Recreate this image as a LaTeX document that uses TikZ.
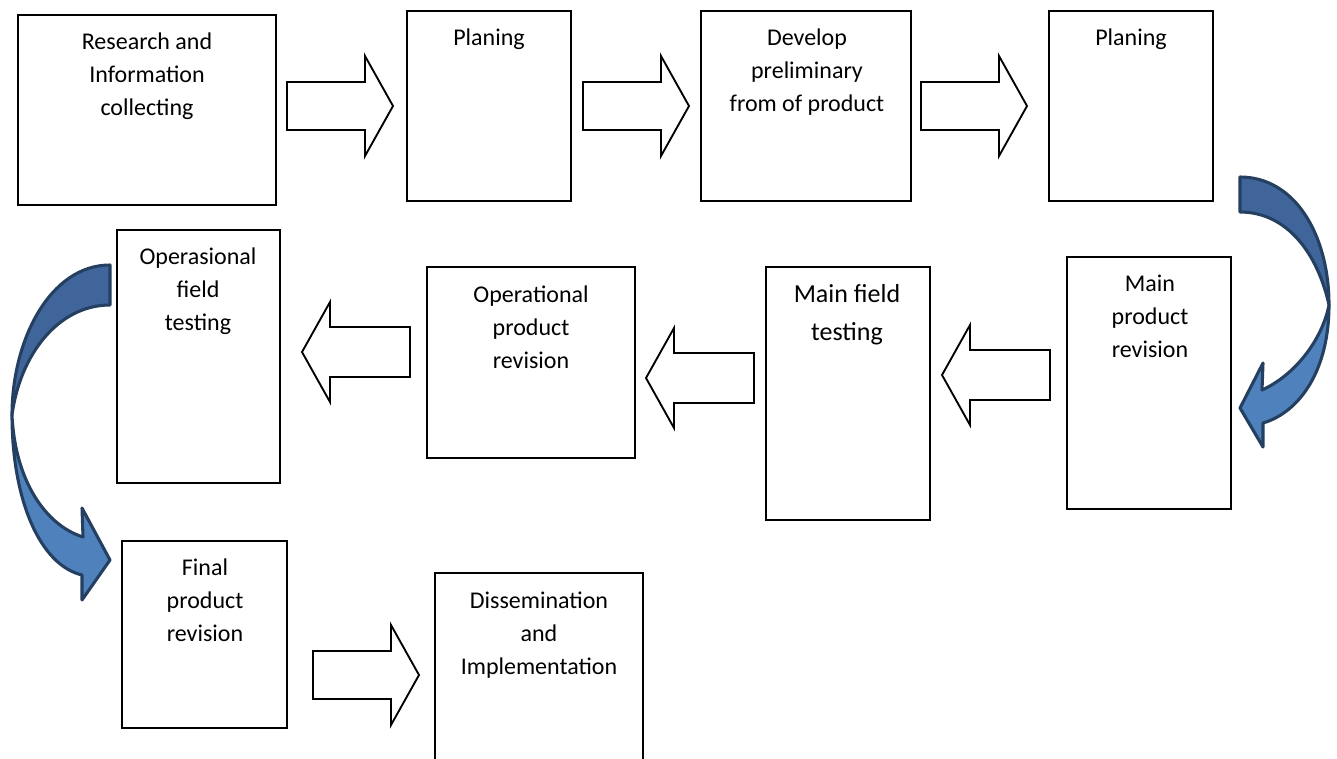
\documentclass[tikz,border=0pt]{standalone}
\usepackage{fontspec}
\setmainfont{Carlito}
\usetikzlibrary{fit}
\definecolor{navy}{HTML}{243F60}
\definecolor{cdark}{HTML}{40659A}
\definecolor{clight}{HTML}{4F81BD}
\begin{document}
\begin{tikzpicture}[x=0.75pt,y=-0.75pt,
  box/.style={draw=black,line width=1.3pt,fill=white,inner sep=0pt},
  lbl/.style={anchor=north,align=center,inner sep=0pt,font=\fontsize{18}{24.75}\selectfont},
  biglbl/.style={anchor=north,align=center,inner sep=0pt,font=\fontsize{19.5}{28.5}\selectfont},
  barrow/.style={draw=black,line width=1.4pt,fill=white,line join=miter},
  cupper/.style={draw=navy,line width=2.3pt,fill=cdark,line join=round},
  clower/.style={draw=navy,line width=2.3pt,fill=clight,line join=round},
  rarrow/.pic={\draw[barrow] (0,-24) -- (78,-24) -- (78,-50) -- (106,0) -- (78,50) -- (78,24) -- (0,24) -- cycle;},
  larrow/.pic={\draw[barrow] (0,-25) -- (-80,-25) -- (-80,-50) -- (-108,0) -- (-80,50) -- (-80,25) -- (0,25) -- cycle;}
]
\clip (0,0) rectangle (1337,758);
\fill[white] (0,0) rectangle (1337,758);

% boxes
\node[box,fit={(18,15) (276,205)}] (b1) {};
\node[box,fit={(407,11) (571,201)}] (b2) {};
\node[box,fit={(701,11) (911,201)}] (b3) {};
\node[box,fit={(1049,11) (1213,201)}] (b4) {};
\node[box,fit={(1067,257) (1231,509)}] (b5) {};
\node[box,fit={(766,267) (930,520)}] (b6) {};
\node[box,fit={(427,267) (635,458)}] (b7) {};
\node[box,fit={(117,230) (280,483)}] (b8) {};
\node[box,fit={(122,541) (287,728)}] (b9) {};
\node[box,fit={(435,573) (643,770)}] (b10) {};

% labels
\node[lbl] (t1) at (147,33) {Research and\\Information\\collecting};
\node[lbl] (t2) at (489,29) {Planing};
\node[lbl] (t3) at (807,29) {Develop\\preliminary\\from of product};
\node[lbl] (t4) at (1131,29) {Planing};
\node[lbl] (t5) at (1150,275) {Main\\product\\revision};
\node[biglbl] (t6) at (847,284) {Main field\\testing};
\node[lbl] (t7) at (531,286) {Operational\\product\\revision};
\node[lbl] (t8) at (198,248) {Operasional\\field\\testing};
\node[lbl] (t9) at (205,559) {Final\\product\\revision};
\node[lbl] (t10) at (539,592) {Dissemination\\and\\Implementation};

% block arrows
\pic at (287,106) {rarrow};
\pic at (583,106) {rarrow};
\pic at (921,106) {rarrow};
\pic at (313,675) {rarrow};
\pic at (410,352) {larrow};
\pic at (754,378) {larrow};
\pic at (1050,375) {larrow};

% right curved arrow
\draw[clower] (1329,305) .. controls (1329,370) and (1300,412) .. (1263,423)
  -- (1263,447) -- (1240,408) -- (1263,363) -- (1262,390)
  .. controls (1295,375) and (1322,340) .. (1329,305) -- cycle;
\draw[cupper] (1240,177) .. controls (1295,177) and (1329,235) .. (1329,305)
  .. controls (1318,255) and (1288,212) .. (1240,212) -- cycle;

% left curved arrow
\draw[clower] (12,415) .. controls (12,500) and (40,565) .. (82,575)
  -- (82,600) -- (110,560) -- (82,508) -- (83,537)
  .. controls (45,525) and (15,480) .. (12,415) -- cycle;
\draw[cupper] (110,265) .. controls (50,265) and (12,340) .. (12,415)
  .. controls (20,355) and (58,305) .. (110,305) -- cycle;
\end{tikzpicture}
\end{document}
